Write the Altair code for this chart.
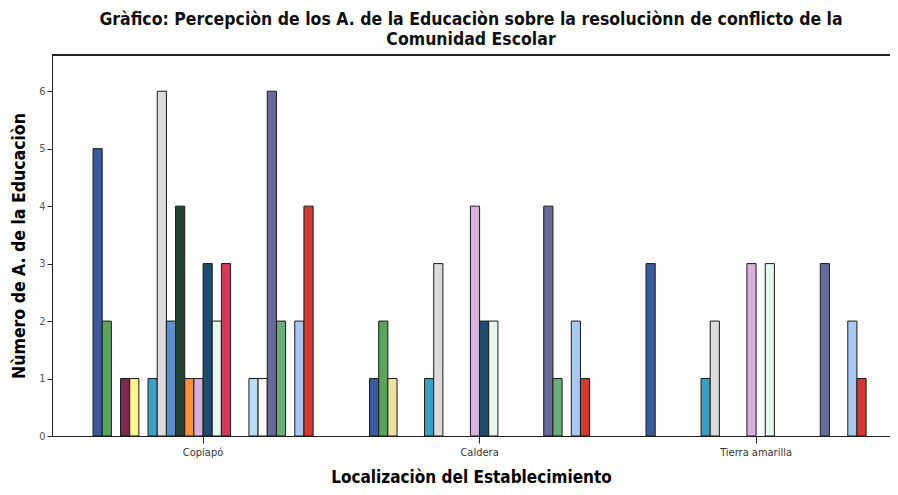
import altair as alt
import pandas as pd

locations = ["Copiapó", "Caldera", "Tierra amarilla"]
series = [f"Categoría {i+1}" for i in range(24)]
colors = ["#3c5b9c", "#5aa45c", "#f0e0a4", "#7a2a4c", "#fff58c", "#c8c8c8",
          "#3d9fc2", "#dcdcdc", "#5b8fcf", "#243f33", "#f6913c", "#d8b2dc",
          "#1f4b6f", "#e6f7ee", "#cf3b5b", "#999999", "#888888", "#b9dcf2",
          "#ffffff", "#676b99", "#6cae79", "#777777", "#a9c9f1", "#d13a34"]
copiapo = [5, 2, 0, 1, 1, 0, 1, 6, 2, 4, 1, 1, 3, 2, 3, 0, 0, 1, 1, 6, 2, 0, 2, 4]
caldera = [1, 2, 1, 0, 0, 0, 1, 3, 0, 0, 0, 4, 2, 2, 0, 0, 0, 0, 0, 4, 1, 0, 2, 1]
tierra = [3, 0, 0, 0, 0, 0, 1, 2, 0, 0, 0, 3, 0, 3, 0, 0, 0, 0, 0, 3, 0, 0, 2, 1]

rows = []
for loc, vals in zip(locations, [copiapo, caldera, tierra]):
    for s, v in zip(series, vals):
        if v > 0:
            rows.append({"loc": loc, "serie": s, "n": v})
df = pd.DataFrame(rows)

FONT = "Liberation Sans Narrow, DejaVu Sans Condensed, Roboto Condensed, Liberation Sans, sans-serif"
W, H = 838, 381

bars = alt.Chart(df).mark_bar(stroke="#1a1a1a", strokeWidth=1).encode(
    x=alt.X("loc:N", sort=locations,
            scale=alt.Scale(paddingInner=0.204, paddingOuter=0.1174, align=0.632),
            axis=alt.Axis(title="Localizaciòn del Establecimiento", labelAngle=0,
                          labelFontSize=11, labelColor="#333", labelFont=FONT,
                          titleFont=FONT, titleFontSize=17, titleFontWeight="bold",
                          titlePadding=12, tickSize=7, tickColor="#222",
                          domainColor="#222", labelPadding=3)),
    xOffset=alt.XOffset("serie:N", sort=series,
                        scale=alt.Scale(domain=series, paddingInner=0, paddingOuter=0)),
    y=alt.Y("n:Q", scale=alt.Scale(domain=[0, 6.63], nice=False),
            axis=alt.Axis(title="Nùmero de A. de la Educaciòn", values=[0, 1, 2, 3, 4, 5, 6],
                          grid=False, labelFontSize=11, labelColor="#555", labelFont=FONT,
                          titleFont=FONT, titleFontSize=17.5, titleFontWeight="bold",
                          titlePadding=10, tickSize=5, tickColor="#222",
                          domainColor="#222", format="d")),
    color=alt.Color("serie:N", scale=alt.Scale(domain=series, range=colors), legend=None),
)

top = alt.Chart(df).mark_rule(color="#222", strokeWidth=1).encode(
    x=alt.value(0), x2=alt.value(W), y=alt.value(0)
)

chart = alt.layer(bars, top).properties(
    width=W, height=H,
    title=alt.TitleParams(
        text=["Gràfico: Percepciòn de los A. de la Educaciòn sobre la resoluciònn de conflicto de la",
              "Comunidad Escolar"],
        font=FONT, fontSize=17.5, fontWeight="bold", anchor="middle", offset=6, dx=0,
        color="#111", lineHeight=20),
    autosize=alt.AutoSizeParams(type="none"),
    padding={"left": 44, "top": 47, "right": 0, "bottom": 51},
).configure_view(stroke=None)

chart.save("out.html", embed_options={"renderer": "svg", "actions": False})
